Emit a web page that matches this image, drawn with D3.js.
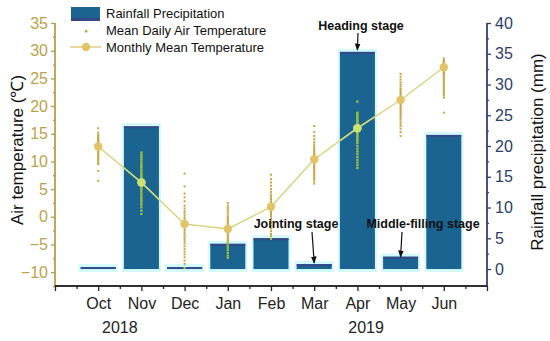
<!DOCTYPE html>
<html>
<head>
<meta charset="utf-8">
<style>
	body { margin: 0; background: #fff; }
	text { font-family: "Liberation Sans", Arial, sans-serif; }
</style>
</head>
<body>
<svg width="550" height="341"></svg>
<script src="https://d3js.org/d3.v7.min.js"></script>
<script>

	var months = ["Oct", "Nov", "Dec", "Jan", "Feb", "Mar", "Apr", "May", "Jun"];
	var years = [{ label: "2018", pos: 1.5 }, { label: "2019", pos: 7.2 }];

	// monthly rainfall (mm)
	var rainfall = [0.3, 23.2, 0.3, 4.1, 5.0, 0.8, 35.3, 2.0, 21.8];
	// monthly mean air temperature (C)
	var monthlyMean = [12.7, 6.2, -1.3, -2.2, 1.8, 10.4, 16.0, 21.1, 27.0];

	// mean daily air temperature, per month
	var dailyOct = [16.0, 15.2, 14.8, 14.6, 14.3, 14.1, 13.9, 13.7, 13.5, 13.4, 13.2, 13.0, 12.9, 12.7, 12.6, 12.5, 12.3, 12.2, 12.0, 11.8, 11.6, 11.4, 11.1, 10.9, 10.6, 10.3, 10.0, 9.7, 9.5, 8.3, 6.5];
	var dailyNov = [11.6, 11.2, 10.8, 10.4, 10.0, 9.6, 9.2, 8.9, 8.5, 8.2, 7.8, 7.5, 7.2, 6.9, 6.6, 6.3, 6.0, 5.7, 5.3, 5.0, 4.6, 4.2, 3.8, 3.4, 3.0, 2.6, 2.2, 1.7, 1.1, 0.5];
	var dailyDec = [7.8, 5.5, 4.2, 3.5, 2.8, 2.0, 1.5, 1.0, 0.6, 0.2, -0.2, -0.6, -1.0, -1.3, -1.6, -2.0, -2.4, -2.8, -3.2, -3.6, -4.0, -4.4, -4.8, -5.3, -5.8, -6.3, -6.8, -7.3, -7.9, -8.5, -9.2];
	var dailyJan = [2.5, 2.0, 1.6, 1.2, 0.8, 0.4, 0.0, -0.3, -0.6, -0.9, -1.2, -1.5, -1.8, -2.0, -2.2, -2.4, -2.6, -2.8, -3.0, -3.3, -3.6, -3.9, -4.2, -4.5, -4.8, -5.2, -5.6, -6.0, -6.5, -7.0, -7.4];
	var dailyFeb = [7.6, 6.8, 6.2, 5.6, 5.0, 4.5, 4.0, 3.6, 3.2, 2.8, 2.5, 2.2, 1.9, 1.6, 1.3, 1.0, 0.7, 0.4, 0.1, -0.3, -0.7, -1.1, -1.6, -2.1, -2.6, -3.1, -3.5, -4.0];
	var dailyMar = [16.4, 15.3, 14.6, 14.0, 13.5, 13.1, 12.7, 12.4, 12.1, 11.8, 11.5, 11.2, 11.0, 10.7, 10.5, 10.3, 10.0, 9.8, 9.6, 9.3, 9.0, 8.8, 8.5, 8.2, 8.0, 7.7, 7.4, 7.1, 6.8, 6.4, 6.0];
	var dailyApr = [20.8, 18.8, 18.5, 18.2, 17.9, 17.6, 17.3, 17.0, 16.7, 16.4, 16.1, 16.0, 15.8, 15.5, 15.2, 14.9, 14.6, 14.3, 14.0, 13.7, 13.3, 12.8, 12.3, 11.8, 11.3, 10.8, 10.3, 9.8, 9.3, 8.8];
	var dailyMay = [25.8, 25.3, 24.8, 24.3, 23.9, 23.5, 23.1, 22.8, 22.5, 22.2, 21.9, 21.6, 21.3, 21.0, 20.7, 20.4, 20.1, 19.8, 19.5, 19.2, 18.9, 18.6, 18.3, 18.0, 17.6, 17.2, 16.8, 16.4, 15.9, 15.3, 14.6];
	var dailyJun = [28.6, 28.3, 28.1, 27.9, 27.7, 27.5, 27.3, 27.1, 26.9, 26.7, 26.5, 26.3, 26.1, 25.9, 25.7, 25.5, 25.2, 24.9, 24.6, 24.3, 24.0, 23.7, 23.4, 23.1, 22.8, 22.5, 22.2, 21.9, 21.5, 18.8];
	var daily = [dailyOct, dailyNov, dailyDec, dailyJan, dailyFeb, dailyMar, dailyApr, dailyMay, dailyJun];

	var tempTicks = [-10, -5, 0, 5, 10, 15, 20, 25, 30, 35];
	var rainTicks = [0, 5, 10, 15, 20, 25, 30, 35, 40];

	var stages = [
		{ label: "Heading stage", month: 6, tx: 361, ty: 30, x1: 358, y1: 33, y2: 50 },
		{ label: "Jointing stage", month: 5, tx: 296, ty: 228, x1: 312, y1: 232, y2: 263 },
		{ label: "Middle-filling stage", month: 7, tx: 423, ty: 228, x1: 402, y1: 232, y2: 257 }
	];

	var svg = d3.select("svg");
	var mLeft = 55, mRight = 487, mTop = 23, mBottom = 286;

	var x = d3.scaleLinear().domain([0, 10]).range([mLeft, mRight]);
	var yT = d3.scaleLinear().domain([-12.5, 35]).range([mBottom, mTop]);
	var yR = d3.scaleLinear().domain([-2.76, 40]).range([mBottom, mTop]);
	var barW = 0.81;

	var gold = "#b59c45", navy = "#2c3d6c";

	var defs = svg.append("defs");
	var clip = defs.append("clipPath").attr("id", "barclip");
	clip.selectAll("rect").data(rainfall).enter().append("rect")
		.attr("x", function (d, i) { return x(i + 1 - barW / 2); })
		.attr("width", x(barW) - x(0))
		.attr("y", function (d) { return yR(d); })
		.attr("height", function (d) { return yR(0) - yR(d); });

	// bars
	var bars = svg.append("g");
	bars.selectAll("rect.halo").data(rainfall).enter().append("rect")
		.attr("class", "halo")
		.attr("x", function (d, i) { return x(i + 1 - barW / 2) - 2; })
		.attr("width", x(barW) - x(0) + 4)
		.attr("y", function (d) { return yR(d) - 3; })
		.attr("height", function (d) { return yR(0) - yR(d) + 6; })
		.attr("fill", "#d2fafb");
	bars.selectAll("rect.bar").data(rainfall).enter().append("rect")
		.attr("class", "bar")
		.attr("x", function (d, i) { return x(i + 1 - barW / 2); })
		.attr("width", x(barW) - x(0))
		.attr("y", function (d) { return yR(d); })
		.attr("height", function (d) { return yR(0) - yR(d); })
		.attr("fill", "#1b6391");
	bars.selectAll("rect.cap").data(rainfall).enter().append("rect")
		.attr("class", "cap")
		.attr("x", function (d, i) { return x(i + 1 - barW / 2); })
		.attr("width", x(barW) - x(0))
		.attr("y", function (d) { return yR(d); })
		.attr("height", function (d) { return Math.min(2, yR(0) - yR(d)); })
		.attr("fill", "#34488a");

	// temperature layer, drawn twice: plain and tinted where it sits on a bar
	function drawTemps(g, dotColor, lineColor, ptColor) {
		daily.forEach(function (vals, i) {
			g.selectAll(null).data(vals).enter().append("rect")
				.attr("x", x(i + 1) - 1)
				.attr("y", function (d) { return yT(d) - 1; })
				.attr("width", 2).attr("height", 2)
				.attr("fill", dotColor);
		});
		g.append("path")
			.datum(monthlyMean)
			.attr("fill", "none")
			.attr("stroke", lineColor)
			.attr("stroke-width", 1.4)
			.attr("d", d3.line().x(function (d, i) { return x(i + 1); }).y(function (d) { return yT(d); }));
		g.selectAll("circle").data(monthlyMean).enter().append("circle")
			.attr("cx", function (d, i) { return x(i + 1); })
			.attr("cy", function (d) { return yT(d); })
			.attr("r", 4.2)
			.attr("fill", ptColor);
	}
	drawTemps(svg.append("g"), "#c9a43f", "#d8d47c", "#e2c466");
	drawTemps(svg.append("g").attr("clip-path", "url(#barclip)"), "#8dc63f", "#c7df7a", "#c9e274");

	// axes
	var gl = svg.append("g").attr("transform", "translate(" + mLeft + ",0)");
	gl.call(d3.axisLeft(yT).tickValues(tempTicks).tickSize(4).tickSizeOuter(0).tickFormat(d3.format("d")));
	gl.append("g").call(d3.axisLeft(yT).tickValues(tempTicks.map(function (d) { return d - 2.5; }).concat([32.5])).tickSize(2).tickFormat(""));
	gl.selectAll("path, line").attr("stroke", gold).attr("stroke-width", 1.3);
	gl.selectAll("text").attr("fill", "#bba24a").attr("font-size", 16).attr("x", -7)
		.attr("font-family", "Liberation Sans, Arial, sans-serif");
	gl.selectAll("path.domain").attr("d", "M0," + mTop + "V" + mBottom);

	var gr = svg.append("g").attr("transform", "translate(" + mRight + ",0)");
	gr.call(d3.axisRight(yR).tickValues(rainTicks).tickSize(4).tickSizeOuter(0));
	gr.append("g").call(d3.axisRight(yR).tickValues(rainTicks.slice(1).map(function (d) { return d - 2.5; })).tickSize(2).tickFormat(""));
	gr.selectAll("path, line").attr("stroke", navy).attr("stroke-width", 1.3);
	gr.selectAll("text").attr("fill", navy).attr("font-size", 16).attr("x", 8)
		.attr("font-family", "Liberation Sans, Arial, sans-serif");
	gr.selectAll("path.domain").attr("d", "M0," + mTop + "V" + mBottom);

	var gb = svg.append("g").attr("transform", "translate(0," + mBottom + ")");
	gb.call(d3.axisBottom(x).tickValues(d3.range(0, 11)).tickSize(5).tickSizeOuter(0)
		.tickFormat(function (d) { return months[d - 1] || ""; }));
	gb.append("g").call(d3.axisBottom(x).tickValues(d3.range(0.5, 10, 1)).tickSize(3).tickFormat(""));
	gb.selectAll("path, line").attr("stroke", "#222").attr("stroke-width", 1.3);
	gb.selectAll("text").attr("fill", "#222").attr("font-size", 16).attr("y", 12)
		.attr("font-family", "Liberation Sans, Arial, sans-serif");
	gb.selectAll("path.domain").attr("d", "M" + mLeft + ",0H" + mRight);

	svg.selectAll("text.year").data(years).enter().append("text")
		.attr("class", "year")
		.attr("x", function (d) { return x(d.pos); })
		.attr("y", 333)
		.attr("text-anchor", "middle")
		.attr("font-size", 16)
		.attr("fill", "#222")
		.text(function (d) { return d.label; });

	// axis titles
	svg.append("text")
		.attr("transform", "translate(17,150) rotate(-90)")
		.attr("dy", "0.35em")
		.attr("text-anchor", "middle")
		.attr("font-size", 17)
		.attr("fill", "#111")
		.text("Air temperature (℃)");
	svg.append("text")
		.attr("transform", "translate(537,152) rotate(-90)")
		.attr("dy", "0.35em")
		.attr("text-anchor", "middle")
		.attr("font-size", 17)
		.attr("fill", "#111")
		.text("Rainfall precipitation (mm)");

	// stage annotations
	defs.append("marker").attr("id", "arrow")
		.attr("viewBox", "0 0 10 10").attr("refX", 9).attr("refY", 5)
		.attr("markerWidth", 6).attr("markerHeight", 6).attr("orient", "auto")
		.append("path").attr("d", "M0,1L10,5L0,9z").attr("fill", "#111");
	var ann = svg.append("g").selectAll("g").data(stages).enter().append("g");
	ann.append("text")
		.attr("x", function (d) { return d.tx; })
		.attr("y", function (d) { return d.ty; })
		.attr("text-anchor", "middle")
		.attr("font-size", 12.5)
		.attr("font-weight", "bold")
		.attr("fill", "#111")
		.text(function (d) { return d.label; });
	ann.append("line")
		.attr("x1", function (d) { return d.x1; })
		.attr("y1", function (d) { return d.y1; })
		.attr("x2", function (d) { return x(d.month + 1); })
		.attr("y2", function (d) { return d.y2; })
		.attr("stroke", "#111")
		.attr("stroke-width", 1.2)
		.attr("marker-end", "url(#arrow)");

	// legend
	var lg = svg.append("g");
	lg.append("rect").attr("x", 71).attr("y", 7).attr("width", 29).attr("height", 14).attr("fill", "#1b6391");
	lg.append("rect").attr("x", 71).attr("y", 18).attr("width", 29).attr("height", 3).attr("fill", "#34488a");
	lg.append("rect").attr("x", 85).attr("y", 30).attr("width", 2.4).attr("height", 2.4).attr("fill", "#8dc63f");
	lg.append("line").attr("x1", 70).attr("x2", 101).attr("y1", 47).attr("y2", 47).attr("stroke", "#e0c474").attr("stroke-width", 1.3);
	lg.append("circle").attr("cx", 86).attr("cy", 47).attr("r", 4.2).attr("fill", "#e2c466");
	lg.selectAll("text").data(["Rainfall Precipitation", "Mean Daily Air Temperature", "Monthly Mean Temperature"])
		.enter().append("text")
		.attr("x", 106)
		.attr("y", function (d, i) { return 18 + i * 17; })
		.attr("font-size", 13)
		.attr("fill", "#111")
		.text(function (d) { return d; });

</script>
</body>
</html>
